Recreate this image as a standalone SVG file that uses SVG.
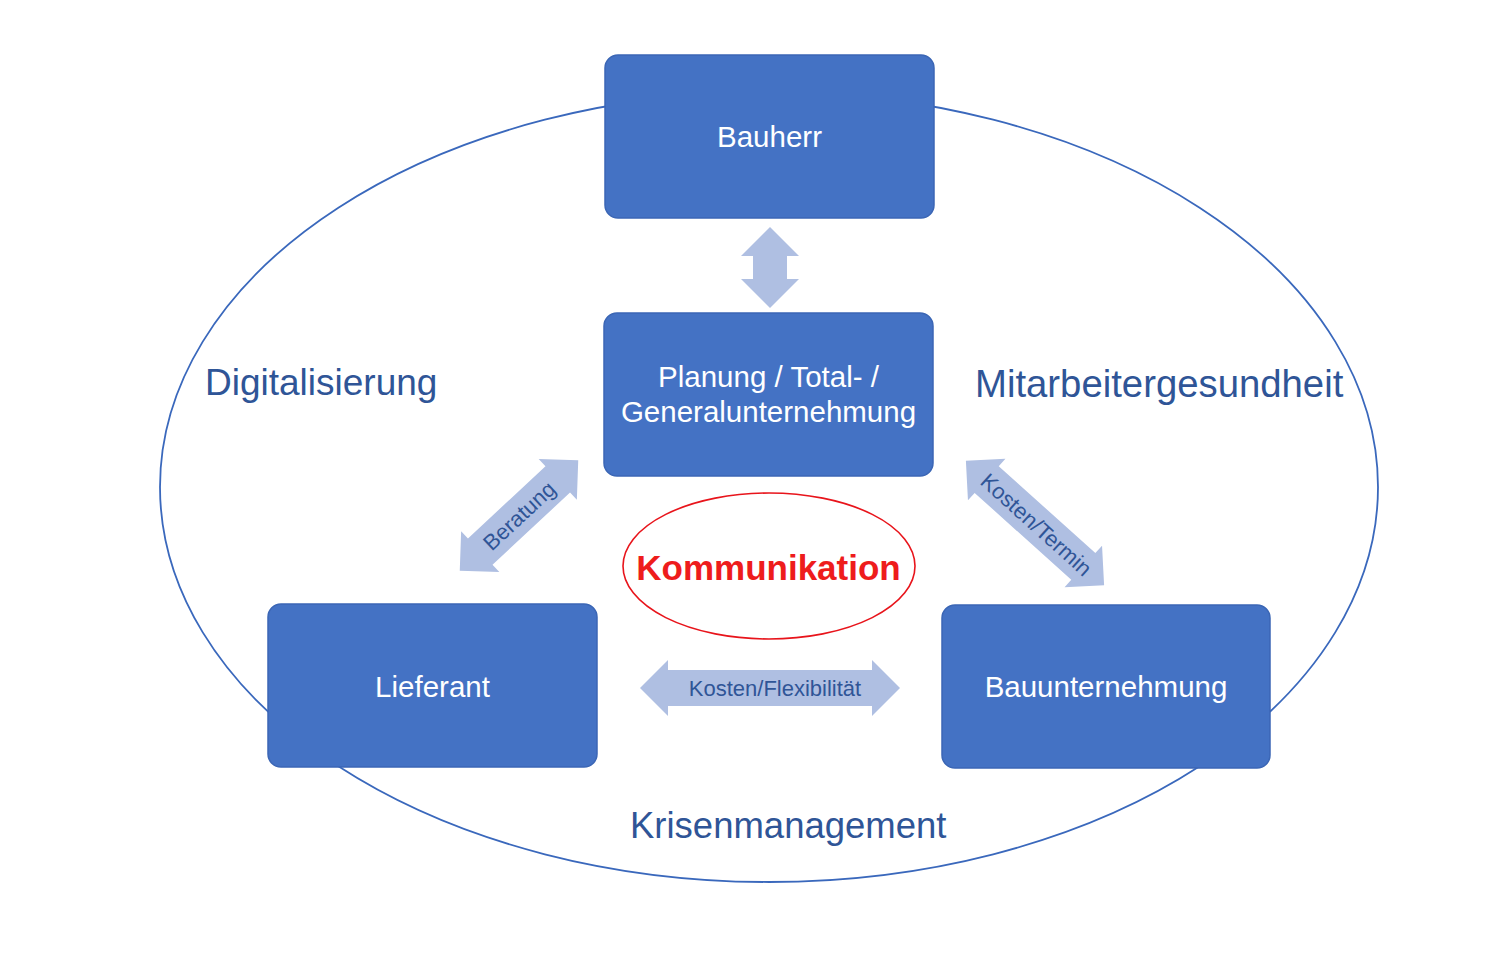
<svg xmlns="http://www.w3.org/2000/svg" width="1512" height="954" viewBox="0 0 1512 954">
<style>
.box{fill:#4472C4;stroke:#3B66B5;stroke-width:1.5}
.bt{font-family:"Liberation Sans",Arial,sans-serif;fill:#FFFFFF;text-anchor:middle;font-size:29.5px}
.ot{font-family:"Liberation Sans",Arial,sans-serif;fill:#2F5597;font-size:37px}
.arr{fill:#AFBFE2}
.at{font-family:"Liberation Sans",Arial,sans-serif;fill:#2F5597;text-anchor:middle;font-size:22px}
</style>
<rect width="1512" height="954" fill="#FFFFFF"/>
<g id="outer">
<ellipse cx="769" cy="487" rx="609" ry="395" fill="none" stroke="#3A68BC" stroke-width="1.8"/>
<text class="ot" x="205" y="395">Digitalisierung</text>
<text class="ot" x="975" y="397" style="font-size:38.3px">Mitarbeitergesundheit</text>
<text class="ot" x="630" y="838" style="font-size:36.5px">Krisenmanagement</text>
</g>
<g id="connectors">
<g transform="translate(770,267.5) rotate(90)">
<path class="arr" d="M -40.5 0 L -11.5 -29 L -11.5 -17 L 11.5 -17 L 11.5 -29 L 40.5 0 L 11.5 29 L 11.5 17 L -11.5 17 L -11.5 29 Z"/>
</g>
<g transform="translate(770,688)">
<path class="arr" d="M -130 0 L -102 -28 L -102 -18 L 102 -18 L 102 -28 L 130 0 L 102 28 L 102 18 L -102 18 L -102 28 Z"/>
<text class="at" x="5" y="8">Kosten/Flexibilität</text>
</g>
<g transform="translate(519,515.5) rotate(-43)">
<path class="arr" d="M -81 0 L -53 -28 L -53 -18 L 53 -18 L 53 -28 L 81 0 L 53 28 L 53 18 L -53 18 L -53 28 Z"/>
<text class="at" x="0" y="8">Beratung</text>
</g>
<g transform="translate(1035,523) rotate(42)">
<path class="arr" d="M -93 0 L -65 -28 L -65 -18 L 65 -18 L 65 -28 L 93 0 L 65 28 L 65 18 L -65 18 L -65 28 Z"/>
<text class="at" x="2" y="8">Kosten/Termin</text>
</g>
</g>
<g id="bauherr">
<rect class="box" x="605" y="55" width="329" height="163" rx="13"/>
<text class="bt" x="769.5" y="147">Bauherr</text>
</g>
<g id="planung">
<rect class="box" x="604" y="313" width="329" height="163" rx="13"/>
<text class="bt" x="768.5" y="387">Planung / Total- /</text>
<text class="bt" x="768.5" y="422">Generalunternehmung</text>
</g>
<g id="lieferant">
<rect class="box" x="268" y="604" width="329" height="163" rx="13"/>
<text class="bt" x="432.5" y="697">Lieferant</text>
</g>
<g id="bauunternehmung">
<rect class="box" x="942" y="605" width="328" height="163" rx="13"/>
<text class="bt" x="1106" y="697">Bauunternehmung</text>
</g>
<g id="kommunikation">
<ellipse cx="769" cy="566" rx="146" ry="73" fill="#FFFFFF" stroke="#E8141B" stroke-width="1.6"/>
<text x="768.5" y="580" text-anchor="middle" font-family="'Liberation Sans',Arial,sans-serif" font-weight="bold" font-size="35" fill="#EE1C1C">Kommunikation</text>
</g>
</svg>
